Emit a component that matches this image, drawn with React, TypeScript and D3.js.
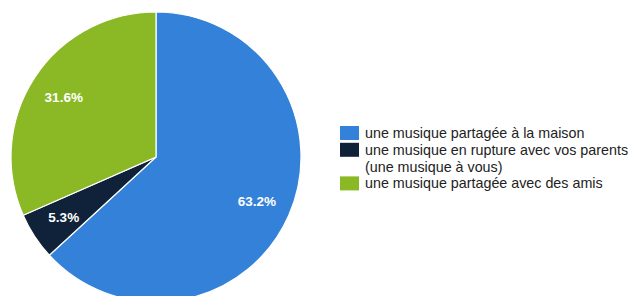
import React from 'react';
import * as d3 from 'd3';

const categories = [
  'une musique partagée à la maison',
  'une musique en rupture avec vos parents (une musique à vous)',
  'une musique partagée avec des amis',
];
const legendLines = [
  ['une musique partagée à la maison'],
  ['une musique en rupture avec vos parents', '(une musique à vous)'],
  ['une musique partagée avec des amis'],
];
const counts = [12, 1, 6];
const colors = ['#3381d9', '#0f2239', '#8ab925'];

interface Slice {
  name: string;
  value: number;
  color: string;
}

export default function App() {
  const width = 633;
  const height = 296;
  const cx = 156;
  const cy = 157;
  const radius = 145;

  const data: Slice[] = categories.map((name, i) => ({ name, value: counts[i], color: colors[i] }));
  const total = d3.sum(counts);

  const pie = d3.pie<Slice>().sort(null).value(d => d.value);
  const arcs = pie(data);
  const arc = d3.arc<d3.PieArcDatum<Slice>>().innerRadius(0).outerRadius(radius);
  const labelArc = d3.arc<d3.PieArcDatum<Slice>>().innerRadius(radius * 0.76).outerRadius(radius * 0.76);
  const fmt = d3.format('.1%');

  // legend layout
  const legendX = 340;
  const lineH = 16.8;
  let row = 0;
  const legendItems = legendLines.map((lines, i) => {
    const item = { lines, color: colors[i], row };
    row += lines.length;
    return item;
  });
  const legendTop = 126;

  return (
    <div style={{ position: 'absolute', left: 0, top: 0 }}>
      <svg width={width} height={height} style={{ display: 'block', background: '#fff' }}>
        <g transform={`translate(${cx},${cy})`}>
          {arcs.map((a, i) => (
            <path key={i} d={arc(a) || ''} fill={a.data.color} stroke="#fff" strokeWidth={1.2} />
          ))}
          {arcs.map((a, i) => {
            const [x, y] = labelArc.centroid(a);
            return (
              <text
                key={i}
                x={x}
                y={y}
                dy="0.36em"
                textAnchor="middle"
                fill="#fff"
                fontFamily="Liberation Sans, Arial, sans-serif"
                fontWeight="bold"
                fontSize={13.5}
              >
                {fmt(a.data.value / total)}
              </text>
            );
          })}
        </g>
        <g fontFamily="Liberation Sans, Arial, sans-serif" fontSize={14.3} fill="#222">
          {legendItems.map((it, i) => (
            <g key={i}>
              <rect x={legendX} y={legendTop + it.row * lineH} width={19} height={14} fill={it.color} />
              {it.lines.map((l, j) => (
                <text key={j} x={legendX + 25} y={legendTop + (it.row + j) * lineH + 12}>
                  {l}
                </text>
              ))}
            </g>
          ))}
        </g>
      </svg>
    </div>
  );
}
